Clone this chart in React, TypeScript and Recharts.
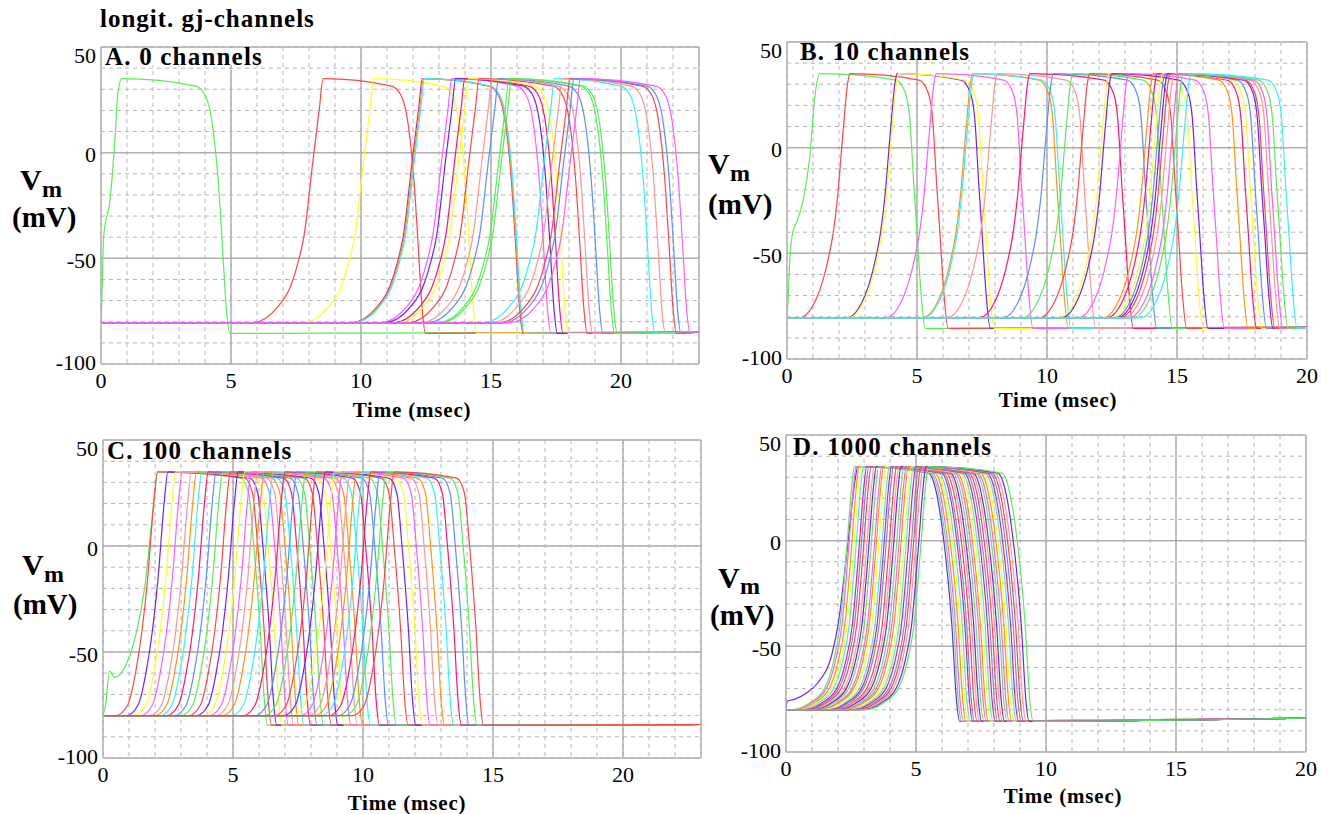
import { LineChart, Line, XAxis, YAxis, CartesianGrid, ReferenceLine } from "recharts";

const SERIF = '"Liberation Serif", "Times New Roman", serif';

const GREEN = "#55ee55";
const RED = "#ff4545";
const YELLOW = "#ffff1a";
const MAGENTA = "#ff5cff";
const SALMON = "#ff9595";
const BLUE = "#5b8fff";
const CYAN = "#2ef2ff";
const ORANGE = "#ff9410";
const PURPLE = "#7020ff";
const PINK = "#ff1470";

type Pair = [number, number];

// ---- A. 0 channels ----
// times (msec) where each upstroke / repolarization crosses -40 mV
const colorsA = [GREEN, RED, YELLOW, PINK, ORANGE, CYAN, MAGENTA, PURPLE, PINK, YELLOW, RED, SALMON, BLUE, GREEN, GREEN, CYAN, SALMON, RED, BLUE, MAGENTA];
const upA = [0.1, 7.8, 9.75, 11.62, 11.66, 11.7, 12.75, 12.9, 13.25, 13.4, 13.8, 14.3, 14.55, 14.95, 15.05, 16.7, 17.0, 17.3, 17.45, 17.7];
const downA = [4.65, 12.18, 14.15, 15.93, 15.95, 15.98, 17.0, 17.25, 17.47, 17.67, 18.4, 18.6, 19.0, 19.45, 19.55, 21.0, 21.4, 21.83, 22.0, 22.35];
const stimA: Pair[] = [[0, -80.5], [0.03, -70], [0.1, -40], [0.36, -21], [0.55, 9], [0.64, 27], [0.8, 35]];
const riseA: Pair[] = [[-2.0, -80.5], [-1.0, -73], [-0.5, -63], [-0.2, -51], [0, -40], [0.35, -4], [0.6, 21], [0.74, 35]];
const fallA: Pair[] = [[-1.0, 31.5], [-0.6, 26], [-0.35, 12], [-0.15, -12], [0, -40], [0.18, -75], [0.3, -85.5]];

// ---- B. 10 channels ----
const colorsB = [GREEN, RED, PURPLE, YELLOW, MAGENTA, ORANGE, CYAN, SALMON, PINK, BLUE, GREEN, RED, YELLOW, PURPLE, MAGENTA, ORANGE, PINK, YELLOW, BLUE, PURPLE, RED, SALMON, MAGENTA, GREEN, CYAN];
const upB = [0.22, 1.78, 3.6, 3.66, 5.1, 6.5, 6.55, 7.45, 8.7, 9.6, 10.35, 11.0, 11.75, 11.85, 12.5, 13.45, 13.6, 13.8, 13.9, 14.0, 14.1, 14.25, 14.45, 14.6, 14.9];
const downB = [5.0, 5.88, 7.5, 7.65, 9.14, 10.5, 10.6, 11.55, 13.0, 13.9, 14.5, 15.05, 15.68, 15.87, 16.5, 17.41, 17.74, 17.93, 18.12, 18.37, 18.44, 18.63, 18.75, 18.95, 19.3];
const stimB: Pair[] = [[0, -80.5], [0.04, -72], [0.1, -55], [0.22, -40], [0.38, -35], [0.62, -25], [0.87, -5], [1.07, 24], [1.26, 35]];
const riseB: Pair[] = [[-1.3, -80.5], [-0.6, -70], [-0.2, -53], [0, -40], [0.15, -25], [0.38, 8], [0.56, 31], [0.64, 35]];
const fallB: Pair[] = [[-0.8, 32], [-0.45, 26], [-0.28, 14], [-0.12, -18], [0, -40], [0.15, -68], [0.32, -85.5]];

// ---- C. 100 channels ----
const cycleC = [GREEN, RED, PURPLE, YELLOW, MAGENTA, SALMON, ORANGE, CYAN, PINK, BLUE];
const upC = [1.31, 1.5, 1.9, 2.2, 2.45, 2.8, 3.0, 3.2, 3.45, 3.75, 4.0, 4.3, 4.6, 4.85, 5.1, 5.35, 5.6, 5.95, 6.4, 6.85, 7.2, 7.6, 7.95, 8.3, 8.6, 8.9, 9.15, 9.4, 9.7, 10.05, 10.3, 10.6];
const downC = [6.05, 6.2, 6.4, 6.6, 6.85, 7.05, 7.25, 7.45, 7.7, 7.95, 8.2, 8.5, 8.75, 9.0, 9.25, 9.5, 9.7, 10.0, 10.35, 10.7, 11.0, 11.45, 11.75, 12.0, 12.3, 12.6, 12.85, 13.2, 13.5, 13.8, 14.1, 14.35];
const stimC: Pair[] = [[0, -80], [0.1, -75], [0.25, -59], [0.45, -62], [0.85, -57], [1.15, -47], [1.3, -40], [1.6, -20], [1.95, 20], [2.1, 35]];
const riseC: Pair[] = [[-1.0, -80], [-0.55, -75], [-0.25, -60], [0, -40], [0.22, -15], [0.45, 20], [0.6, 35]];
const fallC: Pair[] = [[-0.75, 32], [-0.45, 25], [-0.25, 0], [0, -40], [0.15, -72], [0.28, -84.5]];

// ---- D. 1000 channels ----
const cycleD = [PURPLE, GREEN, MAGENTA, ORANGE, YELLOW, CYAN, PINK, BLUE, RED, SALMON];
const upD = [2.0, 2.08, 2.15, 2.26, 2.35, 2.43, 2.55, 2.63, 2.72, 2.84, 2.92, 3.01, 3.13, 3.2, 3.3, 3.42, 3.5, 3.58, 3.7, 3.79, 3.87, 3.98, 4.07, 4.15, 4.27, 4.35, 4.44, 4.55, 4.63, 4.72, 4.83, 4.92];
const downD = [6.38, 6.45, 6.52, 6.62, 6.7, 6.78, 6.88, 6.95, 7.05, 7.14, 7.22, 7.31, 7.4, 7.48, 7.58, 7.66, 7.75, 7.84, 7.93, 8.02, 8.1, 8.2, 8.28, 8.38, 8.46, 8.56, 8.64, 8.74, 8.83, 8.93, 9.05, 9.2];
const stimD: Pair[] = [[0, -80], [0.05, -76], [0.35, -75], [0.8, -72], [1.24, -67], [1.76, -54], [2.0, -40], [2.4, 1], [2.65, 28], [2.76, 35]];
const riseD: Pair[] = [[-1.9, -80], [-1.2, -77], [-0.6, -70], [-0.25, -57], [0, -40], [0.25, -5], [0.45, 26], [0.55, 35]];
const fallD: Pair[] = [[-0.9, 32], [-0.6, 23], [-0.35, 4], [0, -40], [0.18, -76], [0.3, -85.5]];

const yTicks = [-100, -90, -80, -70, -60, -50, -40, -30, -20, -10, 0, 10, 20, 30, 40, 50];

interface PanelDef {
  colors: string[];
  up: number[];
  down: number[];
  stim: Pair[];
  rise: Pair[];
  fall: Pair[];
  rest: number;
  end: number;
  xMax: number;
  // layout
  px: number;
  py: number;
  pw: number;
  ph: number;
}

const panels: PanelDef[] = [
  { colors: colorsA, up: upA, down: downA, stim: stimA, rise: riseA, fall: fallA, rest: -80.5, end: -84.8, xMax: 23, px: 101, py: 47, pw: 598, ph: 317 },
  { colors: colorsB, up: upB, down: downB, stim: stimB, rise: riseB, fall: fallB, rest: -80.5, end: -85, xMax: 20, px: 787, py: 42, pw: 520, ph: 317 },
  { colors: upC.map((_, i) => cycleC[i % cycleC.length]), up: upC, down: downC, stim: stimC, rise: riseC, fall: fallC, rest: -80, end: -84.2, xMax: 23, px: 103, py: 440, pw: 598, ph: 318 },
  { colors: upD.map((_, i) => cycleD[i % cycleD.length]), up: upD, down: downD, stim: stimD, rise: riseD, fall: fallD, rest: -80, end: -84, xMax: 20, px: 786, py: 435, pw: 520, ph: 317 },
];

function buildTraces(p: PanelDef) {
  return p.up.map((u, i) => {
    const rise: Pair[] = i === 0 ? p.stim : p.rise.map(([dt, v]) => [u + dt, v] as Pair);
    const pts: Pair[] = [];
    if (rise[0][0] > 0) pts.push([0, p.rest]);
    pts.push(...rise);
    p.fall.forEach(([dt, v]) => pts.push([p.down[i] + dt, v]));
    pts.push([p.xMax, p.end]);
    return { color: p.colors[i], data: pts.map(([t, v]) => ({ t, v })) };
  });
}

const YTick = (props: any) => {
  const { x, y, payload } = props;
  const v = payload.value;
  if (v % 50 !== 0) return <g />;
  const shift = v === 50 ? 8 : v === -100 ? -2 : 2;
  return (
    <text x={x} y={y + shift} dy="0.35em" textAnchor="end" fontSize={22} fontFamily={SERIF} fill="#000">
      {v}
    </text>
  );
};

const XTick = (props: any) => {
  const { x, y, payload } = props;
  if (payload.value % 5 !== 0) return <g />;
  return (
    <text x={x} y={y} dy="0.71em" textAnchor="middle" fontSize={22} fontFamily={SERIF} fill="#000">
      {payload.value}
    </text>
  );
};

const GRID = "#b4b4b4";
const MAJOR = "#b0b0b0";

function Panel({ p }: { p: PanelDef }) {
  const W = p.pw + 120;
  const H = p.ph + 80;
  const xTicks = Array.from({ length: p.xMax + 1 }, (_, i) => i);
  const majorX = xTicks.filter((t) => t % 5 === 0 && t > 0).concat(p.xMax % 5 ? [p.xMax] : []);
  const traces = buildTraces(p);
  return (
    <div style={{ position: "absolute", left: p.px - 100, top: p.py - 10, width: W, height: H }}>
      <LineChart width={W} height={H} margin={{ top: 10, right: 20, left: 40, bottom: 40 }}>
        <CartesianGrid stroke={GRID} strokeDasharray="4 4" />
        <XAxis
          type="number"
          dataKey="t"
          domain={[0, p.xMax]}
          ticks={xTicks}
          interval={0}
          height={30}
          tick={<XTick />}
          tickLine={false}
          tickSize={0}
          tickMargin={8}
          axisLine={{ stroke: MAJOR, strokeWidth: 1.5 }}
          allowDataOverflow
        />
        <YAxis
          type="number"
          domain={[-100, 50]}
          ticks={yTicks}
          interval={0}
          width={60}
          tick={<YTick />}
          tickLine={false}
          tickSize={0}
          tickMargin={5}
          axisLine={{ stroke: MAJOR, strokeWidth: 1.5 }}
          allowDataOverflow
        />
        {majorX.map((t) => (
          <ReferenceLine key={"x" + t} x={t} stroke={MAJOR} strokeWidth={1.5} />
        ))}
        {[0, -50, 50].map((v) => (
          <ReferenceLine key={"y" + v} y={v} stroke={MAJOR} strokeWidth={1.5} />
        ))}
        {traces.map((tr, i) => (
          <Line
            key={i}
            data={tr.data}
            dataKey="v"
            type="monotone"
            stroke={tr.color}
            strokeWidth={1.2}
            dot={false}
            isAnimationActive={false}
          />
        ))}
      </LineChart>
    </div>
  );
}

const panelLabels = [
  { text: "A. 0 channels", x: 105, y: 65, box: [102, 48, 168, 17] },
  { text: "B. 10 channels", x: 800, y: 60, box: [788, 43, 195, 17] },
  { text: "C. 100 channels", x: 107, y: 459, box: [104, 441, 200, 17] },
  { text: "D. 1000 channels", x: 793, y: 455, box: [787, 436, 222, 18] },
];

const vmLabels = [
  { vx: 20, vy: 190, mx: 42, my: 197, px: 12, py: 227 },
  { vx: 708, vy: 174, mx: 730, my: 181, px: 708, py: 214 },
  { vx: 22, vy: 575, mx: 44, my: 582, px: 13, py: 614 },
  { vx: 718, vy: 588, mx: 740, my: 594, px: 710, py: 625 },
];

const timeLabels = [
  { x: 412, y: 417 },
  { x: 1058, y: 407 },
  { x: 407, y: 810 },
  { x: 1063, y: 803 },
];

export default function App() {
  return (
    <div style={{ position: "absolute", left: 0, top: 0, width: 1330, height: 814, background: "#fff", overflow: "hidden" }}>
      {panels.map((p, i) => (
        <Panel key={i} p={p} />
      ))}
      <svg width={1330} height={814} style={{ position: "absolute", left: 0, top: 0, pointerEvents: "none" }}>
        <text x={100} y={27} fontFamily={SERIF} fontWeight="bold" fontSize={25} letterSpacing={1} fill="#000">
          longit. gj-channels
        </text>
        {panelLabels.map((l) => (
          <g key={l.text}>
            <rect x={l.box[0]} y={l.box[1]} width={l.box[2]} height={l.box[3]} fill="#fff" />
            <text x={l.x} y={l.y} fontFamily={SERIF} fontWeight="bold" fontSize={25} letterSpacing={1.2} fill="#000">
              {l.text}
            </text>
          </g>
        ))}
        {vmLabels.map((l, i) => (
          <g key={i} fontFamily={SERIF} fontWeight="bold" fill="#000">
            <text x={l.vx} y={l.vy} fontSize={30}>V</text>
            <text x={l.mx} y={l.my} fontSize={24}>m</text>
            <text x={l.px} y={l.py} fontSize={29}>(mV)</text>
          </g>
        ))}
        {timeLabels.map((l, i) => (
          <text key={i} x={l.x} y={l.y} textAnchor="middle" fontFamily={SERIF} fontWeight="bold" fontSize={21} letterSpacing={0.8} fill="#000">
            Time (msec)
          </text>
        ))}
      </svg>
    </div>
  );
}
